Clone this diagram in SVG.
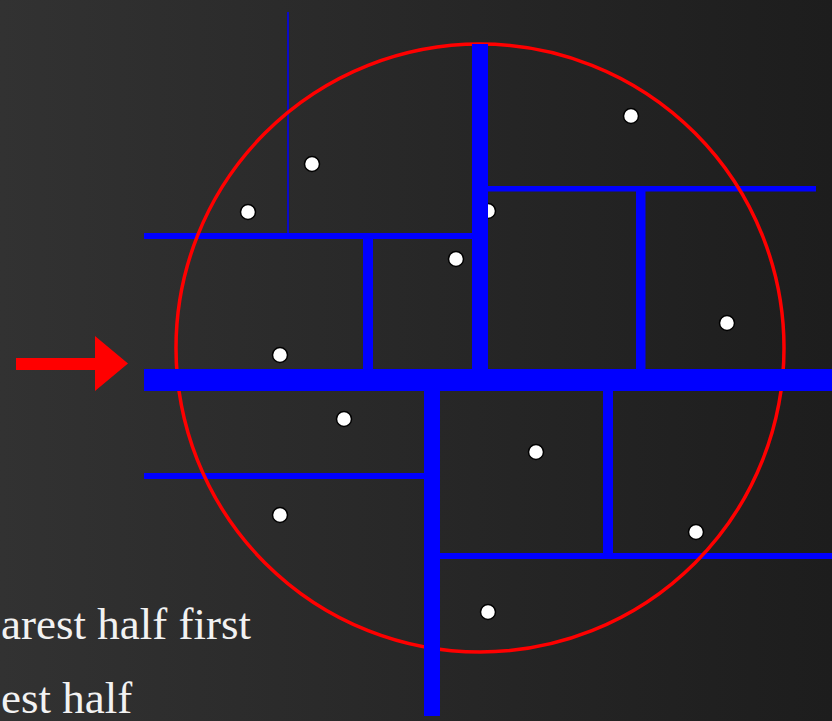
<svg xmlns="http://www.w3.org/2000/svg" width="832" height="721" viewBox="0 0 832 721">
  <defs>
    <linearGradient id="bg" x1="0" y1="0" x2="1" y2="0">
      <stop offset="0" stop-color="#323232"/>
      <stop offset="1" stop-color="#1d1d1d"/>
    </linearGradient>
    <style>
      .thin { stroke: #0000ff; fill: none; }
      .pt { fill: #ffffff; stroke: #000000; stroke-width: 1.5; }
      .lbl { font-family: "Liberation Serif", "DejaVu Serif", serif; font-size: 45px; fill: #f2f2f2; }
      .bar { fill: #0000ff; }
    </style>
  </defs>
  <rect x="0" y="0" width="832" height="721" fill="url(#bg)"/>

  <g id="connectors">
    <line class="thin" x1="288" y1="12" x2="288" y2="236" stroke-width="1.5"/>
    <rect class="bar" x="144" y="233" width="330" height="6"/>
    <rect class="bar" x="144" y="473" width="282" height="6"/>
    <rect class="bar" x="486" y="186" width="330" height="5.5"/>
    <rect class="bar" x="438" y="553" width="394" height="6"/>
    <rect class="bar" x="363" y="236" width="10" height="136"/>
    <rect class="bar" x="636" y="188" width="9.5" height="184"/>
    <rect class="bar" x="603" y="389" width="10" height="167"/>
  </g>

  <g id="range-circle">
    <circle cx="480" cy="348" r="304" fill="none" stroke="#ff0000" stroke-width="3.5"/>
  </g>

  <g id="points">
    <circle class="pt" cx="312" cy="164" r="7.5"/>
    <circle class="pt" cx="248" cy="212" r="7.5"/>
    <circle class="pt" cx="488" cy="211" r="7.5"/>
    <circle class="pt" cx="456" cy="259" r="7.5"/>
    <circle class="pt" cx="631" cy="116" r="7.5"/>
    <circle class="pt" cx="727" cy="323" r="7.5"/>
    <circle class="pt" cx="280" cy="355" r="7.5"/>
    <circle class="pt" cx="344" cy="419" r="7.5"/>
    <circle class="pt" cx="536" cy="452" r="7.5"/>
    <circle class="pt" cx="280" cy="515" r="7.5"/>
    <circle class="pt" cx="696" cy="532" r="7.5"/>
    <circle class="pt" cx="488" cy="612" r="7.5"/>
  </g>

  <g id="main-splits">
    <rect class="bar" x="472" y="44" width="16" height="330"/>
    <rect class="bar" x="424" y="388" width="16" height="328"/>
    <rect class="bar" x="144" y="369" width="688" height="22"/>
  </g>

  <g id="query-arrow">
    <polygon points="16,358 95,358 95,336 128,363.5 95,391 95,370 16,370" fill="#ff0000"/>
  </g>

  <g id="labels">
    <text class="lbl" x="1" y="639">arest half first</text>
    <text class="lbl" x="1" y="713">est half</text>
  </g>
</svg>
